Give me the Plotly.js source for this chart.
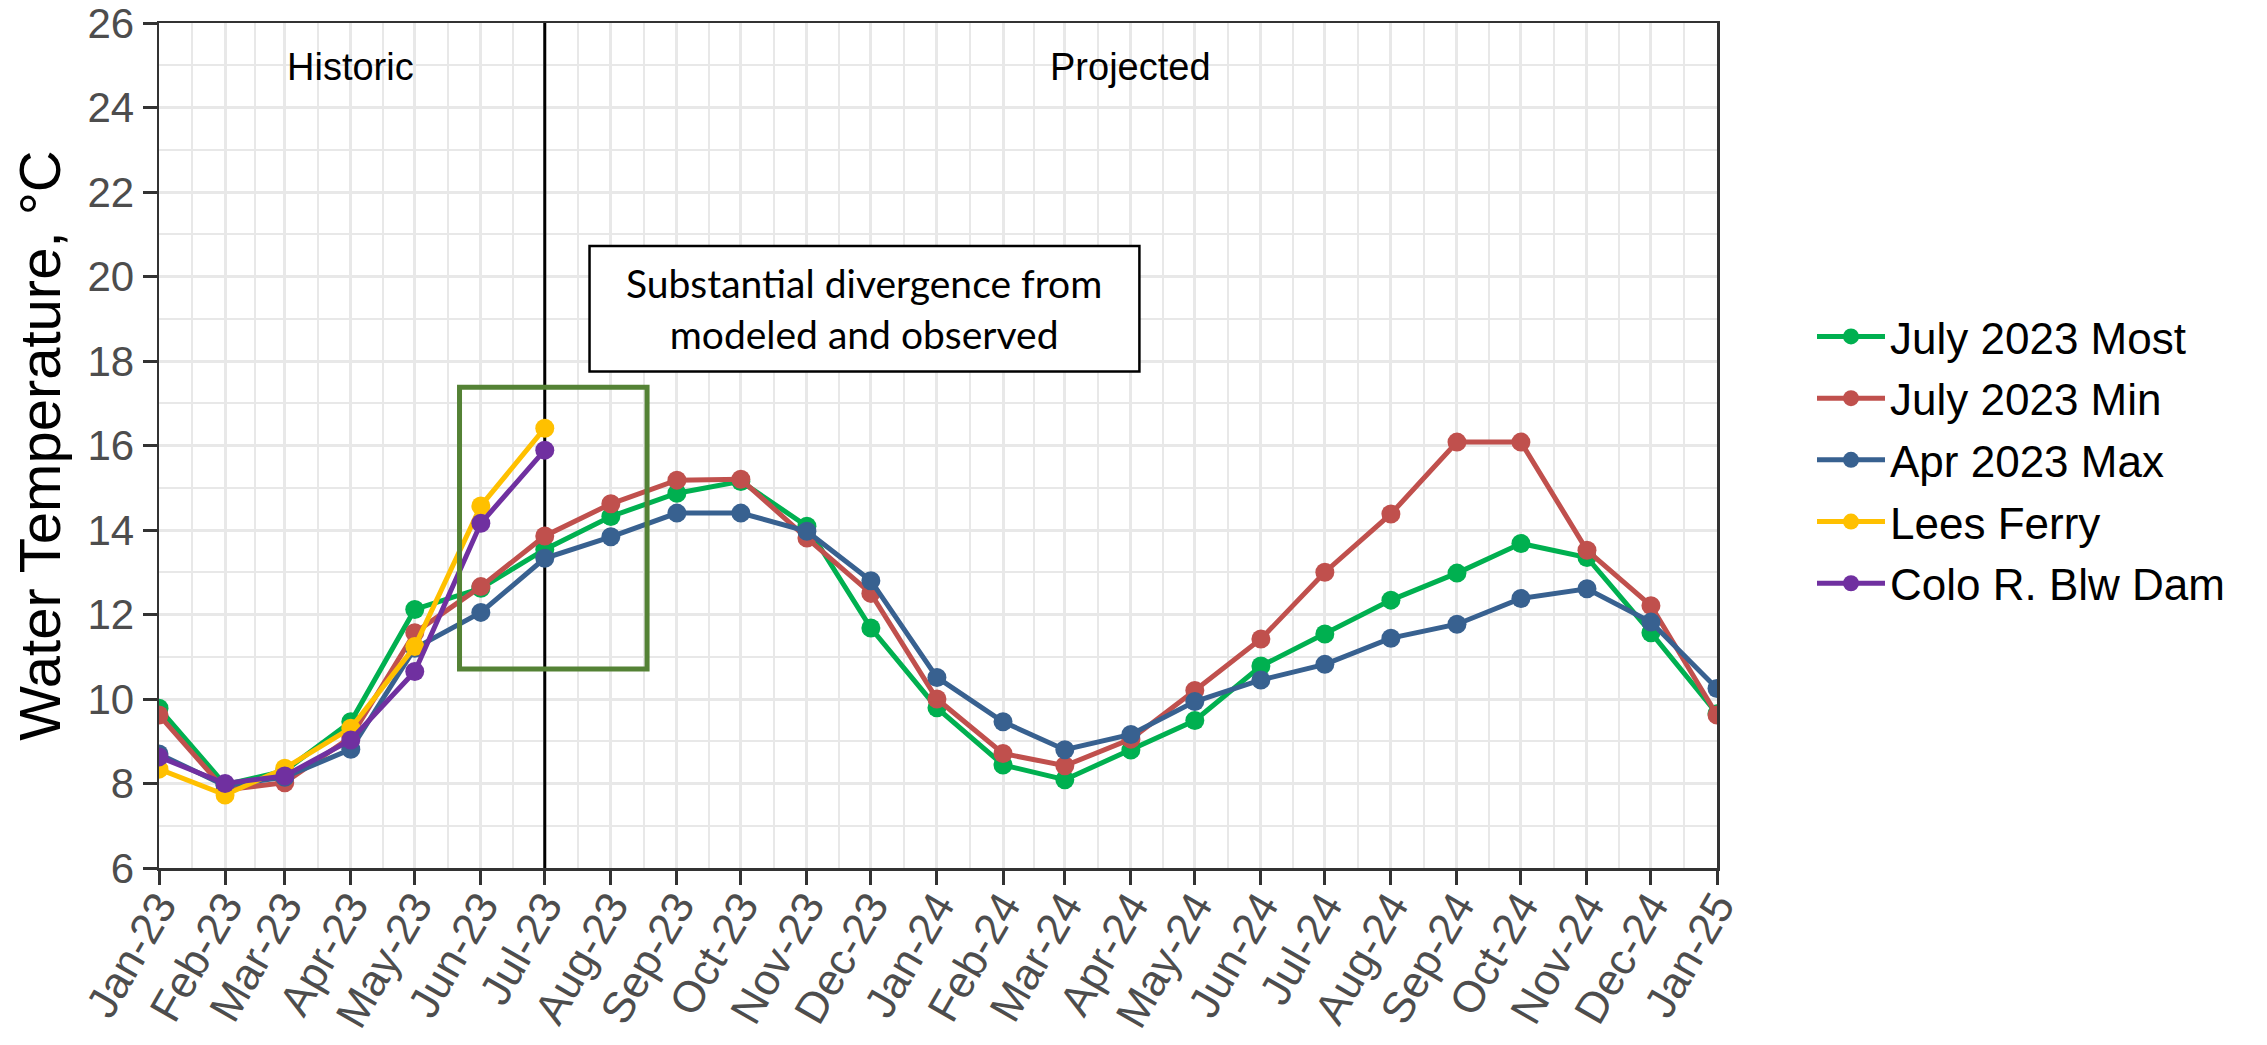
<!DOCTYPE html>
<html>
<head>
<meta charset="utf-8">
<script src="https://cdn.plot.ly/plotly-3.0.1.min.js"></script>
<style>
html,body{margin:0;padding:0;background:#fff;}
#chart{width:2267px;height:1045px;}
</style>
</head>
<body>
<div id="chart"></div>
<script>
// ---- data ----
const months = ['2023-01-01','2023-02-01','2023-03-01','2023-04-01','2023-05-01','2023-06-01','2023-07-01',
  '2023-08-01','2023-09-01','2023-10-01','2023-11-01','2023-12-01','2024-01-01','2024-02-01','2024-03-01',
  '2024-04-01','2024-05-01','2024-06-01','2024-07-01','2024-08-01','2024-09-01','2024-10-01','2024-11-01',
  '2024-12-01','2025-01-01'];
const tickLabels = ['Jan-23','Feb-23','Mar-23','Apr-23','May-23','Jun-23','Jul-23','Aug-23','Sep-23','Oct-23',
  'Nov-23','Dec-23','Jan-24','Feb-24','Mar-24','Apr-24','May-24','Jun-24','Jul-24','Aug-24','Sep-24','Oct-24',
  'Nov-24','Dec-24','Jan-25'];

const july2023Most = [9.78,7.97,8.30,9.46,12.12,12.62,13.54,14.32,14.87,15.15,14.09,11.68,9.79,8.44,8.09,8.79,9.49,10.78,11.54,12.34,12.98,13.68,13.35,11.57,9.65];
const july2023Min  = [9.62,7.85,8.02,9.10,11.57,12.66,13.86,14.62,15.18,15.20,13.81,12.50,10.00,8.71,8.42,9.05,10.20,11.42,13.00,14.38,16.08,16.08,13.52,12.21,9.62];
const apr2023Max   = [8.70,7.95,8.15,8.81,11.20,12.05,13.33,13.84,14.40,14.40,13.97,12.80,10.51,9.46,8.80,9.16,9.94,10.45,10.82,11.44,11.77,12.38,12.61,11.82,10.25];
const leesFerry    = [8.34,7.73,8.36,9.31,11.24,14.57,16.41];
const coloBlwDam   = [8.63,8.00,8.18,9.03,10.65,14.16,15.89];

const seriesNames  = ['July 2023 Most','July 2023 Min','Apr 2023 Max','Lees Ferry','Colo R. Blw Dam'];
const seriesColors = ['#00B050','#C0504D','#386190','#FFC000','#7030A0'];

const yRange = [6, 26];
const historicEnd = '2023-07-01';   // divider between historic and projected

// ---- helpers ----
function fmt(ms){ return new Date(ms).toISOString().replace('T',' ').slice(0,19); }
const minorX = [];
for (let i=0;i<months.length-1;i++){
  const a = Date.parse(months[i]+'T00:00:00Z'), b = Date.parse(months[i+1]+'T00:00:00Z');
  minorX.push(fmt((a+b)/2));
}

const dividerTrace = {
  type:'scatter', mode:'lines', x:[historicEnd, historicEnd], y:yRange,
  line:{color:'#000', width:3}, showlegend:false, hoverinfo:'skip', cliponaxis:false
};

const seriesY = [july2023Most, july2023Min, apr2023Max, leesFerry, coloBlwDam];
const traces = [dividerTrace].concat(seriesY.map((ys,i)=>({
  type:'scatter', mode:'lines+markers',
  x: months.slice(0, ys.length), y: ys,
  name: seriesNames[i], legendgroup: 'g'+i,
  line:{color:seriesColors[i], width:5},
  marker:{color:seriesColors[i], size:19},
  hoverinfo:'skip'
})));

const FONT = 'Liberation Sans, Arial, sans-serif';
const gridC = '#E8E8E8';

const layout = {
  width:2267, height:1045,
  paper_bgcolor:'#fff', plot_bgcolor:'#fff',
  margin:{l:159, r:550, t:23, b:177, pad:0},
  font:{family:FONT, color:'#000'},
  showlegend:true,
  legend:{
    x:(1812-159)/1558, xanchor:'left', y:0.483, yanchor:'middle',
    font:{family:FONT, size:44, color:'#000'},
    traceorder:'grouped', tracegroupgap:1.5,
    itemwidth:68, bgcolor:'rgba(0,0,0,0)'
  },
  xaxis:{
    type:'date', range:['2023-01-01','2025-01-01'],
    tickmode:'array', tickvals:months, ticktext:tickLabels,
    tickangle:-60, tickfont:{family:FONT, size:44, color:'#4D4D4D'},
    ticklabelstandoff:-22, ticklabeloverflow:'allow',
    ticks:'outside', ticklen:14, tickwidth:3, tickcolor:'#333333',
    showline:true, linecolor:'#333333', linewidth:2.5, mirror:true,
    showgrid:true, gridcolor:gridC, gridwidth:3, zeroline:false,
    minor:{tickmode:'array', tickvals:minorX, showgrid:true, gridcolor:gridC, gridwidth:1.6, ticks:''}
  },
  yaxis:{
    range:yRange, tickmode:'linear', tick0:6, dtick:2,
    tickfont:{family:FONT, size:42, color:'#4D4D4D'}, ticklabeloverflow:'allow',
    ticks:'outside', ticklen:14, tickwidth:3, tickcolor:'#333333',
    showline:true, linecolor:'#333333', linewidth:2.5, mirror:true,
    showgrid:true, gridcolor:gridC, gridwidth:3, zeroline:false,
    minor:{dtick:1, showgrid:true, gridcolor:gridC, gridwidth:1.6, ticks:''},
    title:{text:'Water Temperature, °C', font:{family:FONT, size:58, color:'#000'}, standoff:8}
  },
  shapes:[
    {type:'rect', xref:'x', yref:'y', x0:'2023-05-22', x1:'2023-08-18', y0:10.71, y1:17.38,
     line:{color:'#548235', width:5}, fillcolor:'rgba(0,0,0,0)', layer:'above'},
    {type:'rect', xref:'x', yref:'y', x0:'2023-07-22', x1:'2024-04-05', y0:17.75, y1:20.72,
     line:{color:'#000', width:2.5}, fillcolor:'#fff', layer:'above'}
  ],
  annotations:[
    {xref:'x', yref:'y', x:'2023-04-01', y:24.95, text:'Historic', showarrow:false,
     font:{family:FONT, size:38, color:'#000'}, xanchor:'center', yanchor:'middle'},
    {xref:'x', yref:'y', x:'2024-04-01', y:24.95, text:'Projected', showarrow:false,
     font:{family:FONT, size:38, color:'#000'}, xanchor:'center', yanchor:'middle'},
    {xref:'x', yref:'y', x:'2023-11-28', y:19.25, text:'Substantial divergence from<br>modeled and observed',
     showarrow:false, font:{family:'Lato, Open Sans, sans-serif', size:39, color:'#000'},
     xanchor:'center', yanchor:'middle', align:'center'}
  ]
};

Plotly.newPlot('chart', traces, layout, {displayModeBar:false, staticPlot:true});
</script>
</body>
</html>
